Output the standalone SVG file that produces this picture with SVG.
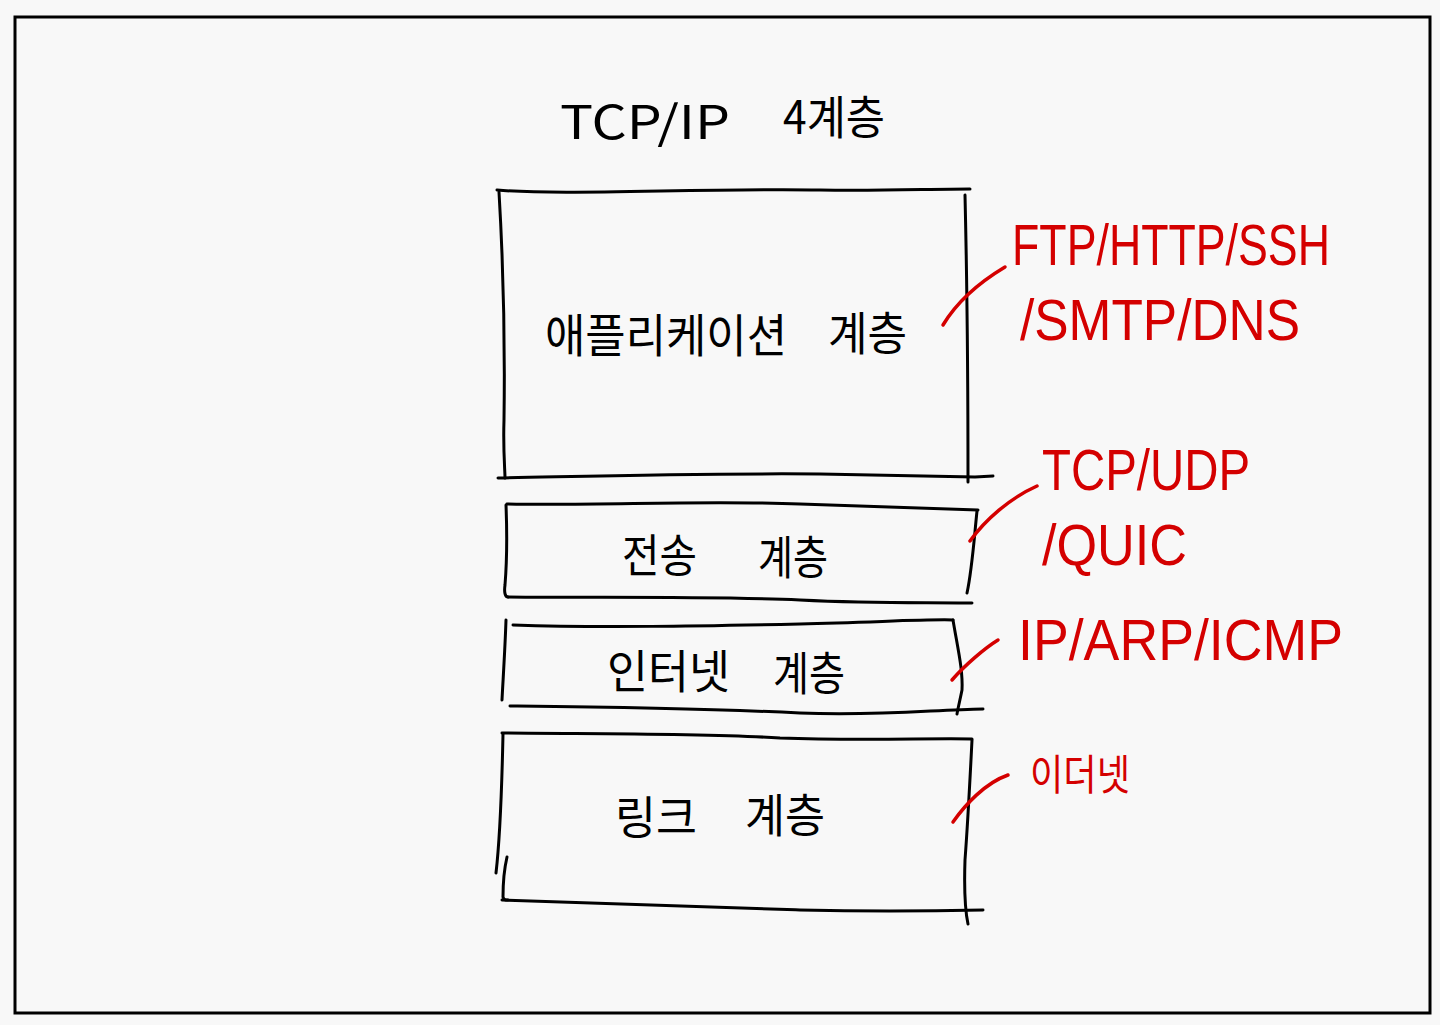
<svg xmlns="http://www.w3.org/2000/svg" width="1440" height="1025" viewBox="0 0 1440 1025">
<style>
.ink{fill:none;stroke:#000;stroke-width:3;stroke-linecap:round;stroke-linejoin:round}
.red{fill:none;stroke:#d40000;stroke-width:3.5;stroke-linecap:round;stroke-linejoin:round}
.lbl{font-family:"Noto Sans CJK KR","Noto Sans",sans-serif;font-size:46px;fill:#000}
.rt{font-family:"Liberation Sans","Noto Sans CJK KR",sans-serif;font-size:58px;fill:#d40000}
.rk{font-family:"Noto Sans CJK KR","Noto Sans",sans-serif;font-size:42px;fill:#d40000}
</style>
<rect x="0" y="0" width="1440" height="1025" fill="#f8f8f8"/>
<rect x="15" y="17" width="1415" height="996" fill="none" stroke="#000" stroke-width="3"/>
<g id="title">
<text class="lbl" x="560" y="139" font-size="56" textLength="170" lengthAdjust="spacingAndGlyphs">TCP/IP</text>
<text class="lbl" x="783" y="134" font-size="48" textLength="102" lengthAdjust="spacingAndGlyphs">4계층</text>
</g>
<g id="application">
<path class="ink" d="M497 190 C560 196 700 188 820 190 C880 191 930 189 970 189"/>
<path class="ink" d="M499 192 C503 260 505 350 504 420 C503 450 505 470 505 478"/>
<path class="ink" d="M965 195 C967 280 968 380 968 482"/>
<path class="ink" d="M498 478 C600 476 700 473 820 474 C900 476 950 477 975 477 L993 476"/>
<text class="lbl" x="545" y="352" textLength="242" lengthAdjust="spacingAndGlyphs">애플리케이션</text>
<text class="lbl" x="828" y="350" textLength="79" lengthAdjust="spacingAndGlyphs">계층</text>
</g>
<g id="transport">
<path class="ink" d="M507 504 C600 506 700 500 800 504 C880 507 940 509 978 510"/>
<path class="ink" d="M506 505 C507 530 507 560 505 585 C504 592 505 597 508 597"/>
<path class="ink" d="M977 511 C974 540 972 570 967 593"/>
<path class="ink" d="M508 597 C600 598 700 596 800 600 C880 604 930 602 972 603"/>
<text class="lbl" x="622" y="572" textLength="75" lengthAdjust="spacingAndGlyphs">전송</text>
<text class="lbl" x="758" y="574" textLength="70" lengthAdjust="spacingAndGlyphs">계층</text>
</g>
<g id="internet">
<path class="ink" d="M513 625 C600 628 700 626 800 624 C880 622 930 619 953 620"/>
<path class="ink" d="M506 620 C505 650 503 680 502 700"/>
<path class="ink" d="M953 620 C958 650 963 670 962 690 C960 700 958 708 957 714"/>
<path class="ink" d="M510 706 C600 707 700 708 800 713 C880 716 930 710 983 709"/>
<text class="lbl" x="607" y="688" textLength="123" lengthAdjust="spacingAndGlyphs">인터넷</text>
<text class="lbl" x="773" y="690" textLength="72" lengthAdjust="spacingAndGlyphs">계층</text>
</g>
<g id="link">
<path class="ink" d="M502 733 C600 734 700 733 780 738 C860 741 930 738 972 739"/>
<path class="ink" d="M503 734 C502 780 501 830 496 873"/>
<path class="ink" d="M507 857 C504 870 503 885 503 897 C504 900 505 900 508 900"/>
<path class="ink" d="M972 740 C970 780 968 820 965 860 C964 890 965 910 968 924"/>
<path class="ink" d="M502 900 C600 903 700 907 800 910 C880 912 940 911 983 910"/>
<text class="lbl" x="615" y="834" textLength="82" lengthAdjust="spacingAndGlyphs">링크</text>
<text class="lbl" x="745" y="832" textLength="80" lengthAdjust="spacingAndGlyphs">계층</text>
</g>
<g id="connectors">
<path class="red" d="M943 325 C955 305 975 285 1005 267"/>
<path class="red" d="M970 541 C985 520 1010 498 1037 486"/>
<path class="red" d="M952 680 C965 665 985 648 998 640"/>
<path class="red" d="M953 822 C965 805 985 783 1008 775"/>
</g>
<g id="app-protocols">
<text class="rt" x="1012" y="265" textLength="318" lengthAdjust="spacingAndGlyphs">FTP/HTTP/SSH</text>
<text class="rt" x="1020" y="340" textLength="280" lengthAdjust="spacingAndGlyphs">/SMTP/DNS</text>
</g>
<g id="transport-protocols">
<text class="rt" x="1042" y="490" textLength="208" lengthAdjust="spacingAndGlyphs">TCP/UDP</text>
<text class="rt" x="1042" y="565" textLength="145" lengthAdjust="spacingAndGlyphs">/QUIC</text>
</g>
<g id="internet-protocols">
<text class="rt" x="1018" y="660" textLength="325" lengthAdjust="spacingAndGlyphs">IP/ARP/ICMP</text>
</g>
<g id="link-protocols">
<text class="rk" x="1030" y="790" textLength="100" lengthAdjust="spacingAndGlyphs">이더넷</text>
</g>
</svg>
